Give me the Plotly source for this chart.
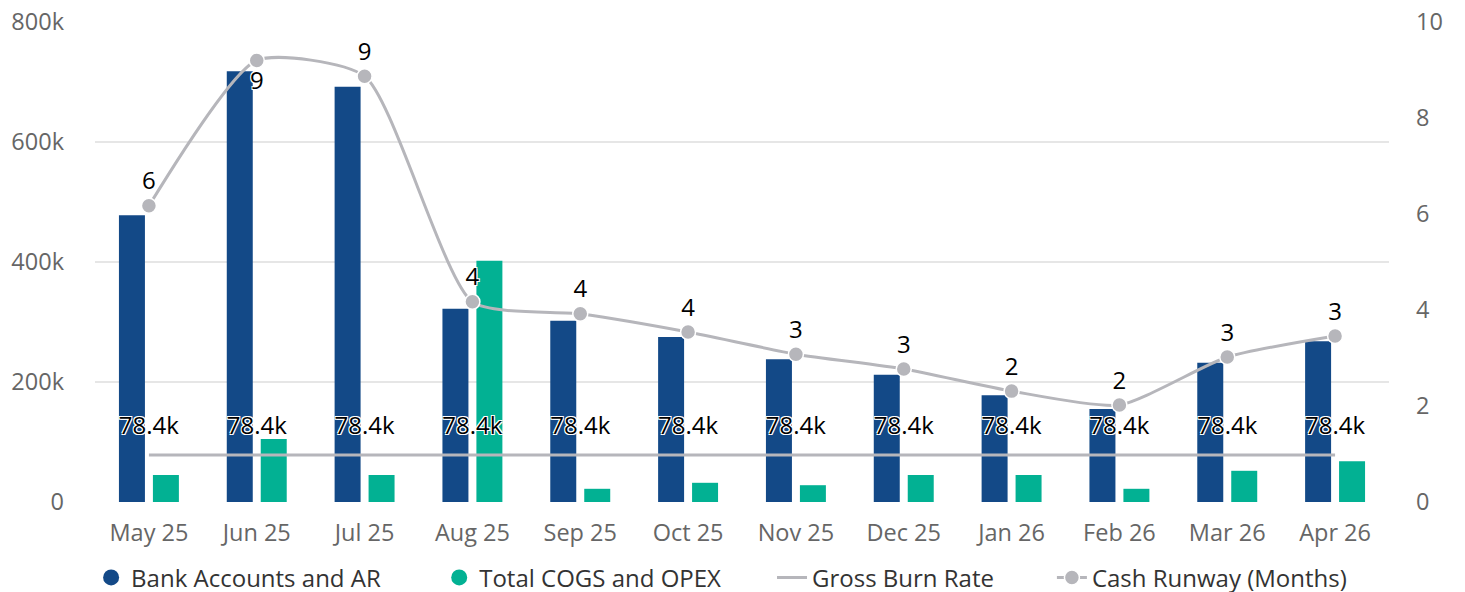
import plotly.graph_objects as go

months = ["May 25", "Jun 25", "Jul 25", "Aug 25", "Sep 25", "Oct 25",
          "Nov 25", "Dec 25", "Jan 26", "Feb 26", "Mar 26", "Apr 26"]
bank_ar = [478000, 718000, 692000, 322000, 302000, 275000,
           238000, 212000, 178000, 155000, 232000, 268000]
cogs_opex = [45000, 105000, 45000, 402000, 22000, 32000,
             28000, 45000, 45000, 22000, 52000, 68000]
gross_burn = [78400] * 12
cash_runway = [6.17, 9.2, 8.87, 4.17, 3.92, 3.54,
               3.08, 2.77, 2.31, 2.02, 3.02, 3.46]
runway_label_pos = ["top center", "bottom center"] + ["top center"] * 10

BLUE = "#134987"
TEAL = "#02b193"
GREY = "#b6b6bb"
FONT = "Open Sans"
OUTLINE = "-1px -1px 0 #fff, 1px -1px 0 #fff, -1px 1px 0 #fff, 1px 1px 0 #fff"
TICK = 23.5

fig = go.Figure()

fig.add_trace(go.Bar(x=months, y=bank_ar, name="Bank Accounts and AR",
                     marker=dict(color=BLUE, line=dict(width=0)),
                     showlegend=False, legendgroup="bank"))
fig.add_trace(go.Bar(x=months, y=cogs_opex, name="Total COGS and OPEX",
                     marker=dict(color=TEAL, line=dict(width=0)),
                     showlegend=False, legendgroup="cogs"))

# legend-only circle entries for the bars
fig.add_trace(go.Scatter(x=[None], y=[None], mode="markers", name="Bank Accounts and AR",
                         marker=dict(color=BLUE, size=24, symbol="circle"),
                         legendgroup="bank", legend="legend"))
fig.add_trace(go.Scatter(x=[None], y=[None], mode="markers", name="Total COGS and OPEX",
                         marker=dict(color=TEAL, size=24, symbol="circle"),
                         legendgroup="cogs", legend="legend2"))

fig.add_trace(go.Scatter(x=months, y=gross_burn, name="Gross Burn Rate",
                         mode="lines+markers+text", line=dict(color=GREY, width=3),
                         marker=dict(size=22, color="rgba(0,0,0,0)", line=dict(width=0)),
                         text=["%.1fk" % (v / 1000) for v in gross_burn],
                         textposition="top center", legend="legend3",
                         textfont=dict(family=FONT, size=24, color="#000", shadow=OUTLINE)))

fig.add_trace(go.Scatter(x=months, y=cash_runway, name="Cash Runway (Months)",
                         mode="lines+markers+text", yaxis="y2", legend="legend4",
                         line=dict(color=GREY, width=3, shape="spline", smoothing=0.6),
                         marker=dict(color=GREY, size=15, line=dict(color="#fff", width=1.5)),
                         texttemplate="%{y:.0f}",
                         textposition=runway_label_pos,
                         textfont=dict(family=FONT, size=24, color="#000", shadow=OUTLINE)))

leg = dict(orientation="h", xanchor="left", y=-0.158, yanchor="middle",
           font=dict(family=FONT, size=24, color="#333"),
           itemsizing="trace", itemwidth=30, bgcolor="rgba(0,0,0,0)")

# page body has an 8px margin: figure is shifted by 8px, margins compensate
fig.update_layout(
    width=1457, height=584,
    margin=dict(l=87, r=76, t=14, b=90, autoexpand=False),
    paper_bgcolor="#fff", plot_bgcolor="#fff",
    font=dict(family=FONT, size=TICK, color="#666"),
    barmode="group", bargap=0.37, bargroupgap=0.235,
    showlegend=True,
    legend=dict(leg, x=-0.003),
    legend2=dict(leg, x=0.266),
    legend3=dict(leg, x=0.5232),
    legend4=dict(leg, x=0.7395),
    xaxis=dict(type="category", range=[-0.5, 11.5], showgrid=False, ticks="",
               showline=False, automargin=False,
               tickfont=dict(size=TICK, color="#666"), ticklabelstandoff=14),
    yaxis=dict(range=[0, 800000], tickvals=[0, 200000, 400000, 600000, 800000],
               ticktext=["0", "200k", "400k", "600k", "800k"], automargin=False,
               showgrid=True, gridcolor="#e6e6e6", gridwidth=1.5,
               zeroline=False, showline=False, ticks="", ticklabeloverflow="allow",
               tickfont=dict(size=TICK, color="#666"), ticklabelstandoff=30),
    yaxis2=dict(range=[0, 10], tickvals=[0, 2, 4, 6, 8, 10], overlaying="y", side="right",
                showgrid=False, zeroline=False, showline=False, ticks="", automargin=False,
                ticklabeloverflow="allow",
                tickfont=dict(size=TICK, color="#666"), ticklabelstandoff=26),
)

fig.write_html("out.html")
